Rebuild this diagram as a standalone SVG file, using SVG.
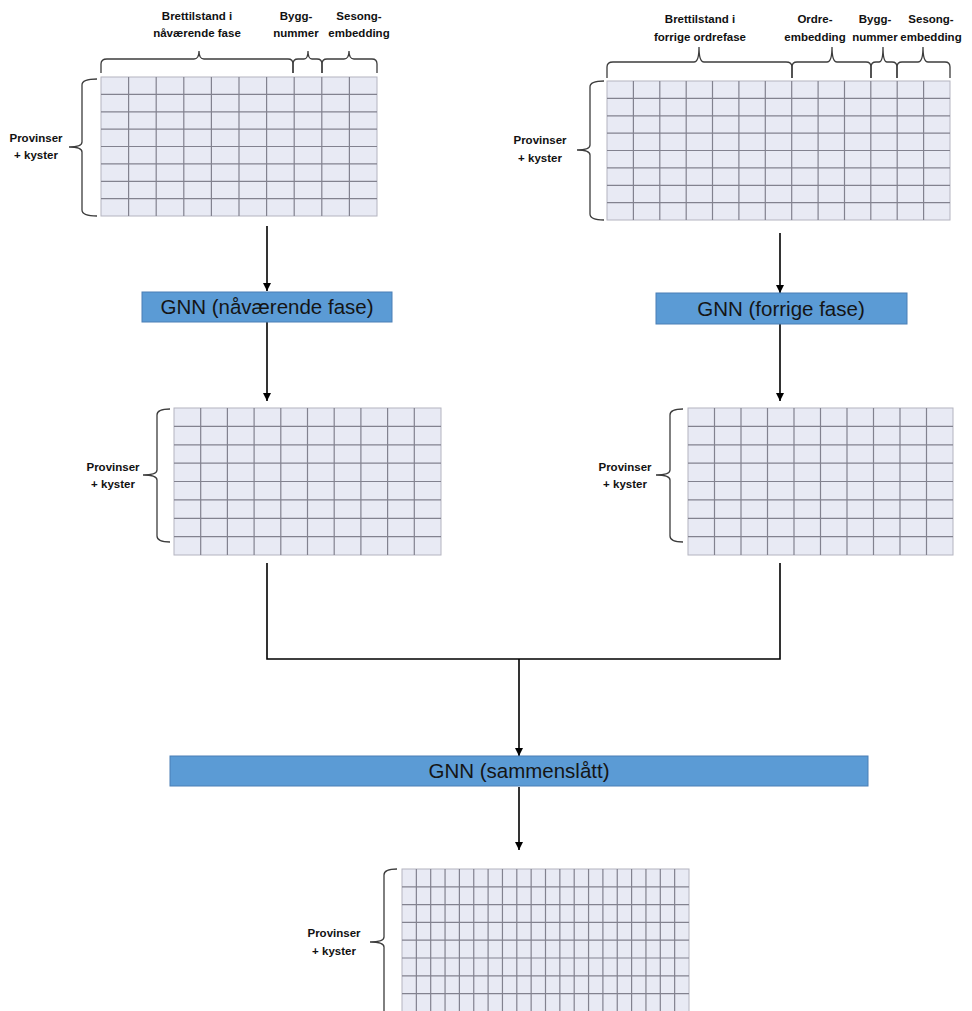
<svg xmlns="http://www.w3.org/2000/svg" width="972" height="1011" viewBox="0 0 972 1011">
<defs>
<style>
.grid-bg{fill:#E8EAF4;stroke:#B4B4C0;stroke-width:1}
.grid-ln{fill:none;stroke:#82828F;stroke-width:1.2}
.brace{fill:none;stroke:#3C3C3C;stroke-width:1.3}
.lbl{font-family:"Liberation Sans",Arial,sans-serif;font-weight:bold;font-size:11.5px;fill:#111;text-anchor:middle}
.box{fill:#5B9BD5;stroke:#4A7FB5;stroke-width:1}
.boxt{font-family:"Liberation Sans",Arial,sans-serif;font-size:20.5px;fill:#151515;text-anchor:middle}
.conn{fill:none;stroke:#000;stroke-width:1.6}
</style>
<marker id="ah" markerUnits="userSpaceOnUse" markerWidth="9" markerHeight="9" refX="8" refY="4" orient="auto">
<path d="M0,0 L8,4 L0,8 z" fill="#000"/>
</marker>
</defs>
<rect width="972" height="1011" fill="#fff"/>

<g id="connectors">
<line class="conn" x1="267" y1="226" x2="267" y2="291" marker-end="url(#ah)"/>
<line class="conn" x1="267" y1="322" x2="267" y2="401" marker-end="url(#ah)"/>
<line class="conn" x1="780" y1="233" x2="780" y2="293" marker-end="url(#ah)"/>
<line class="conn" x1="780" y1="324" x2="780" y2="401" marker-end="url(#ah)"/>
<path class="conn" d="M267,563 V659 H780 V563"/>
<line class="conn" x1="519" y1="659" x2="519" y2="756" marker-end="url(#ah)"/>
<line class="conn" x1="519" y1="787" x2="519" y2="850" marker-end="url(#ah)"/>
</g>

<g id="grid-current">
<rect class="grid-bg" x="101" y="77" width="276" height="139"/>
<path class="grid-ln" d="M128.6,77V216M156.2,77V216M183.8,77V216M211.4,77V216M239,77V216M266.6,77V216M294.2,77V216M321.8,77V216M349.4,77V216M101,94.4H377M101,111.8H377M101,129.1H377M101,146.5H377M101,163.9H377M101,181.3H377M101,198.6H377"/>
<path class="brace" d="M97,79 Q82,79 82,85 V142 Q82,147 69,147 Q82,147 82,152 V210 Q82,216 97,216"/>
<text class="lbl" x="36" y="142">Provinser</text>
<text class="lbl" x="36" y="159">+ kyster</text>
<path class="brace" d="M101,73 V64 Q101,59 107,59 H194 Q199,59 199,51 Q199,59 204,59 H288 Q293,59 293,64 V73"/>
<path class="brace" d="M293,73 V64 Q293,59 298,59 H304 Q308,59 308,51 Q308,59 312,59 H317 Q322,59 322,64 V73"/>
<path class="brace" d="M322,73 V64 Q322,59 327,59 H344 Q349,59 349,51 Q349,59 354,59 H372 Q377,59 377,64 V73"/>
<text class="lbl" x="197" y="20">Brettilstand i</text>
<text class="lbl" x="197" y="37">nåværende fase</text>
<text class="lbl" x="296" y="20">Bygg-</text>
<text class="lbl" x="296" y="37">nummer</text>
<text class="lbl" x="359" y="20">Sesong-</text>
<text class="lbl" x="359" y="37">embedding</text>
</g>

<g id="grid-previous">
<rect class="grid-bg" x="607" y="81" width="343" height="139"/>
<path class="grid-ln" d="M633.4,81V220M659.8,81V220M686.2,81V220M712.5,81V220M738.9,81V220M765.3,81V220M791.7,81V220M818.1,81V220M844.5,81V220M870.8,81V220M897.2,81V220M923.6,81V220M607,98.4H950M607,115.8H950M607,133.1H950M607,150.5H950M607,167.9H950M607,185.3H950M607,202.6H950"/>
<path class="brace" d="M604,81 Q590,81 590,87 V145 Q590,150 577,150 Q590,150 590,155 V214 Q590,220 604,220"/>
<text class="lbl" x="540" y="144">Provinser</text>
<text class="lbl" x="540" y="162">+ kyster</text>
<path class="brace" d="M607,78 V67 Q607,62 613,62 H694 Q699,62 699,47 Q699,62 704,62 H786 Q792,62 792,67 V78"/>
<path class="brace" d="M792,78 V67 Q792,62 797,62 H827 Q832,62 832,47 Q832,62 837,62 H866 Q871,62 871,67 V78"/>
<path class="brace" d="M871,78 V67 Q871,62 876,62 H879 Q883,62 883,47 Q883,62 887,62 H892 Q897,62 897,67 V78"/>
<path class="brace" d="M897,78 V67 Q897,62 902,62 H918 Q923,62 923,47 Q923,62 928,62 H945 Q950,62 950,67 V78"/>
<text class="lbl" x="700" y="23">Brettilstand i</text>
<text class="lbl" x="700" y="41">forrige ordrefase</text>
<text class="lbl" x="815" y="23">Ordre-</text>
<text class="lbl" x="815" y="41">embedding</text>
<text class="lbl" x="875" y="23">Bygg-</text>
<text class="lbl" x="875" y="41">nummer</text>
<text class="lbl" x="931" y="23">Sesong-</text>
<text class="lbl" x="931" y="41">embedding</text>
</g>

<g id="gnn-current">
<rect class="box" x="142" y="292" width="250" height="30"/>
<text class="boxt" x="267" y="314">GNN (nåværende fase)</text>
</g>

<g id="gnn-previous">
<rect class="box" x="656" y="293" width="251" height="31"/>
<text class="boxt" x="781" y="316">GNN (forrige fase)</text>
</g>

<g id="out-current">
<rect class="grid-bg" x="174" y="408" width="267" height="147"/>
<path class="grid-ln" d="M200.7,408V555M227.4,408V555M254.1,408V555M280.8,408V555M307.5,408V555M334.2,408V555M360.9,408V555M387.6,408V555M414.3,408V555M174,426.4H441M174,444.8H441M174,463.1H441M174,481.5H441M174,499.9H441M174,518.3H441M174,536.6H441"/>
<path class="brace" d="M170,409 Q157,409 157,415 V470 Q157,475 143,475 Q157,475 157,480 V536 Q157,542 170,542"/>
<text class="lbl" x="113" y="471">Provinser</text>
<text class="lbl" x="113" y="488">+ kyster</text>
</g>

<g id="out-previous">
<rect class="grid-bg" x="688" y="408" width="265" height="147"/>
<path class="grid-ln" d="M714.5,408V555M741,408V555M767.5,408V555M794,408V555M820.5,408V555M847,408V555M873.5,408V555M900,408V555M926.5,408V555M688,426.4H953M688,444.8H953M688,463.1H953M688,481.5H953M688,499.9H953M688,518.3H953M688,536.6H953"/>
<path class="brace" d="M683,409 Q670,409 670,415 V470 Q670,475 656,475 Q670,475 670,480 V536 Q670,542 683,542"/>
<text class="lbl" x="625" y="471">Provinser</text>
<text class="lbl" x="625" y="488">+ kyster</text>
</g>

<g id="gnn-merged">
<rect class="box" x="170" y="756" width="698" height="30"/>
<text class="boxt" x="519" y="778">GNN (sammenslått)</text>
</g>

<g id="out-merged">
<rect class="grid-bg" x="402" y="869" width="287" height="143"/>
<path class="grid-ln" d="M416.35,869V1012M430.7,869V1012M445.05,869V1012M459.4,869V1012M473.75,869V1012M488.1,869V1012M502.45,869V1012M516.8,869V1012M531.15,869V1012M545.5,869V1012M559.85,869V1012M574.2,869V1012M588.55,869V1012M602.9,869V1012M617.25,869V1012M631.6,869V1012M645.95,869V1012M660.3,869V1012M674.65,869V1012M402,886.8H689M402,904.6H689M402,922.4H689M402,940.2H689M402,958H689M402,975.8H689M402,993.6H689"/>
<path class="brace" d="M397,869 Q384,869 384,875 V937 Q384,942 370,942 Q384,942 384,947 V1030"/>
<text class="lbl" x="334" y="937">Provinser</text>
<text class="lbl" x="334" y="955">+ kyster</text>
</g>
</svg>
